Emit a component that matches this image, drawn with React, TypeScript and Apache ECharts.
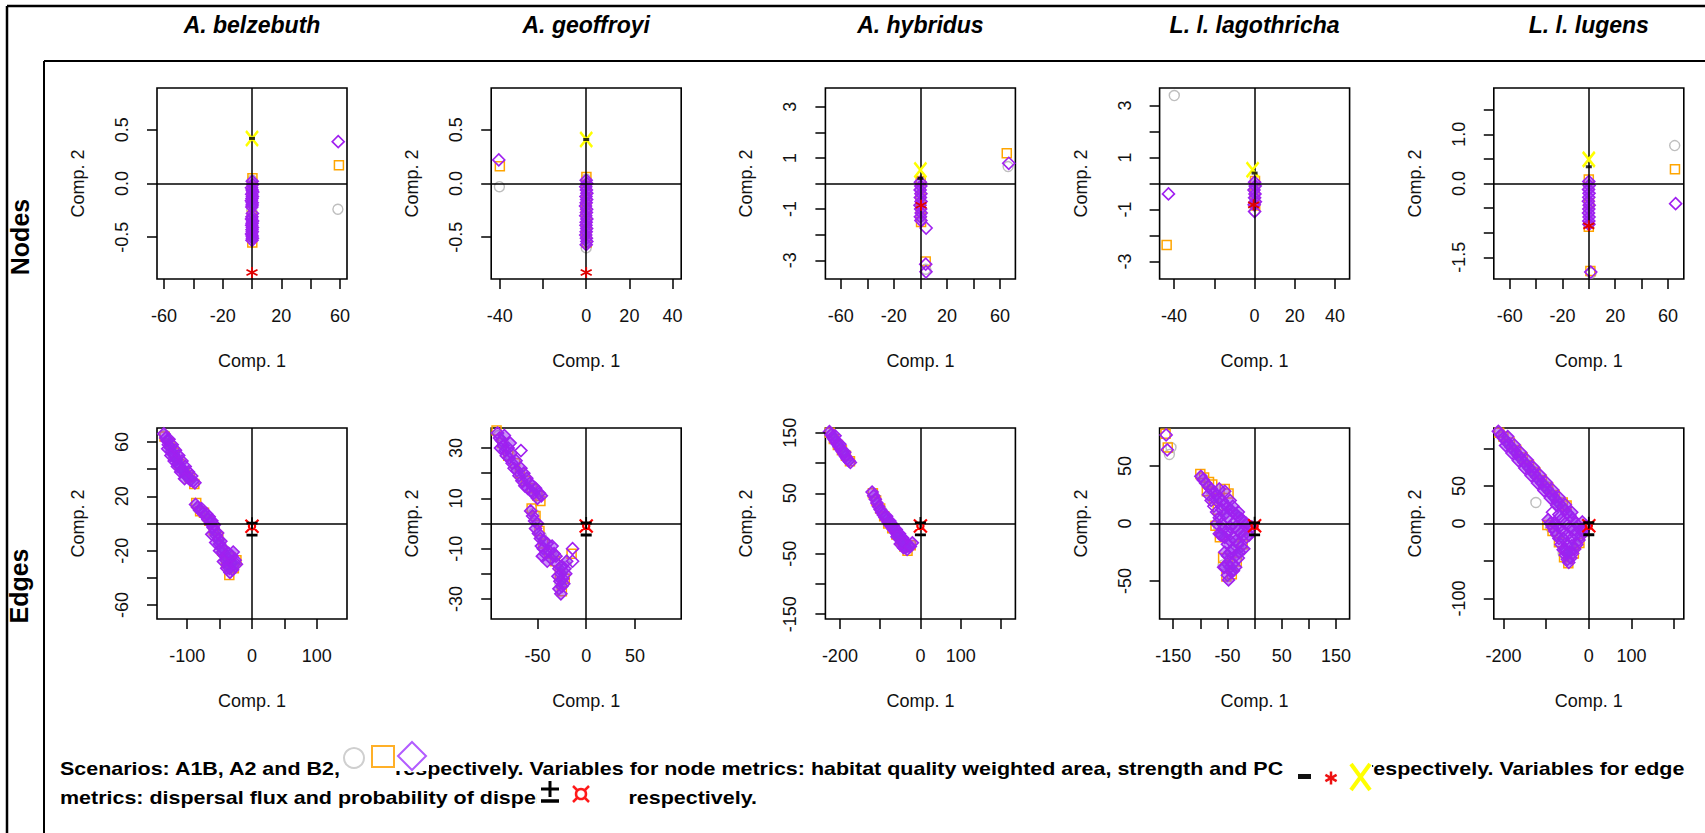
import React, { useEffect, useRef } from 'react';
import * as echarts from 'echarts';

type Pt = [number, number];

// ---------- titles / labels ----------
const panelTitles = ['A. belzebuth', 'A. geoffroyi', 'A. hybridus', 'L. l. lagothricha', 'L. l. lugens'];
const rowLabels = ['Nodes', 'Edges'];
const xAxisName = 'Comp. 1';
const yAxisName = 'Comp. 2';

// ---------- axis limits (symmetric) and ticks, panels 0-4 nodes, 5-9 edges ----------
const xLimits = [64.7, 44, 71.5, 47.2, 72, 146.5, 97.5, 236, 175, 222.6];
const yLimits = [0.89, 0.89, 3.73, 3.67, 1.94, 70.3, 38, 158, 83, 127.5];
const xTicks: number[][] = [
  [-60, -40, -20, 0, 20, 40, 60],
  [-40, -20, 0, 20, 40],
  [-60, -40, -20, 0, 20, 40, 60],
  [-40, -20, 0, 20, 40],
  [-60, -40, -20, 0, 20, 40, 60],
  [-100, -50, 0, 50, 100],
  [-50, 0, 50],
  [-200, -100, 0, 100, 200],
  [-150, -100, -50, 0, 50, 100, 150],
  [-200, -100, 0, 100, 200],
];
const xLabels: number[][] = [
  [-60, -20, 20, 60],
  [-40, 0, 20, 40],
  [-60, -20, 20, 60],
  [-40, 0, 20, 40],
  [-60, -20, 20, 60],
  [-100, 0, 100],
  [-50, 0, 50],
  [-200, 0, 100],
  [-150, -50, 50, 150],
  [-200, 0, 100],
];
const yTicks: number[][] = [
  [-0.5, 0, 0.5],
  [-0.5, 0, 0.5],
  [-3, -2, -1, 0, 1, 2, 3],
  [-3, -2, -1, 0, 1, 2, 3],
  [-1.5, -1, -0.5, 0, 0.5, 1, 1.5],
  [-60, -40, -20, 0, 20, 40, 60],
  [-30, -20, -10, 0, 10, 20, 30],
  [-150, -100, -50, 0, 50, 100, 150],
  [-50, 0, 50],
  [-100, -50, 0, 50, 100],
];
const yLabels: number[][] = [
  [-0.5, 0, 0.5],
  [-0.5, 0, 0.5],
  [-3, -1, 1, 3],
  [-3, -1, 1, 3],
  [-1.5, 0, 1],
  [-60, -20, 20, 60],
  [-30, -10, 10, 30],
  [-150, -50, 50, 150],
  [-50, 0, 50],
  [-100, 0, 50],
];
const yDecimals = [1, 1, 0, 0, 1, 0, 0, 0, 0, 0];

// ---------- node metrics (row 1) ----------
const belzNodesA1B: Pt[] = [[58.5, -0.24], [0.1, 0.03], [0.2, -0.12], [-0.2, -0.25], [0.1, -0.38], [0, -0.5]];
const belzNodesA2: Pt[] = [[59.2, 0.17], [0.3, 0.05], [0, -0.03], [-0.2, -0.1], [0.2, -0.18], [0, -0.3], [0.3, -0.4], [-0.1, -0.48], [0.2, -0.55]];
const belzNodesB2: Pt[] = [[58.7, 0.39], [0.2, 0.02], [0.4, -0.01], [-0.3, -0.04], [0.1, -0.06], [0.5, -0.08], [-0.2, -0.1], [0.3, -0.12], [0, -0.14], [-0.4, -0.16], [0.2, -0.18], [0.1, -0.2], [-0.1, -0.22], [0.3, -0.28], [0, -0.31], [-0.3, -0.33], [0.4, -0.35], [0.1, -0.37], [-0.2, -0.39], [0.3, -0.41], [0, -0.43], [0.2, -0.45], [-0.3, -0.47], [0.1, -0.49], [0.3, -0.51], [0, -0.53]];

const geofNodesA1B: Pt[] = [[-40.2, -0.03], [0, 0.04], [0.2, -0.1], [-0.1, -0.2], [0.1, -0.3], [0, -0.4], [0.2, -0.5], [0, -0.6]];
const geofNodesA2: Pt[] = [[-40, 0.16], [0.1, 0.06], [0, -0.05], [0.2, -0.15], [-0.1, -0.25], [0.1, -0.35], [0, -0.45], [0.2, -0.55]];
const geofNodesB2: Pt[] = [[-40.5, 0.22], [0, 0.03], [0.3, 0], [-0.2, -0.03], [0.1, -0.06], [0.3, -0.09], [-0.1, -0.12], [0.2, -0.15], [0, -0.18], [-0.3, -0.21], [0.2, -0.24], [0.1, -0.27], [-0.2, -0.3], [0.3, -0.33], [0, -0.36], [-0.1, -0.39], [0.2, -0.42], [0, -0.45], [-0.2, -0.48], [0.1, -0.51], [0.3, -0.54], [0, -0.57]];

const hybNodesA1B: Pt[] = [[66, 0.66], [4.1, -3.35], [0, -0.2], [0.2, -0.8], [0.4, -1.3]];
const hybNodesA2: Pt[] = [[65, 1.18], [4, -3.05], [0.2, 0.1], [0, -0.5], [0.3, -1.0], [0.5, -1.5]];
const hybNodesB2: Pt[] = [[66.5, 0.79], [4.3, -1.74], [4, -3.15], [4.2, -3.45], [0, 0.05], [0.3, -0.1], [-0.2, -0.25], [0.4, -0.4], [0, -0.55], [0.5, -0.7], [-0.3, -0.85], [0.2, -1.0], [0.6, -1.15], [0, -1.3], [0.4, -1.45]];

const lagNodesA1B: Pt[] = [[-39.9, 3.38], [0, -0.2], [0.2, -0.7], [0, -1.05]];
const lagNodesA2: Pt[] = [[-43.7, -2.36], [0.2, 0.1], [0, -0.4], [0.3, -0.85]];
const lagNodesB2: Pt[] = [[-42.8, -0.4], [0, -1.08], [0, 0.05], [0.3, -0.1], [-0.3, -0.25], [0.2, -0.4], [0, -0.55], [0.4, -0.7], [-0.2, -0.82]];

const lugNodesA1B: Pt[] = [[65.1, 0.77], [1.8, -1.82], [0, -0.1], [0.1, -0.6]];
const lugNodesA2: Pt[] = [[65.3, 0.29], [1.2, -1.78], [0, 0.08], [0.2, -0.4], [0, -0.88]];
const lugNodesB2: Pt[] = [[65.8, -0.41], [1.5, -1.8], [0, 0.04], [0.3, -0.04], [-0.2, -0.12], [0.2, -0.2], [0, -0.28], [-0.3, -0.36], [0.3, -0.44], [0, -0.52], [-0.2, -0.6], [0.2, -0.68], [0, -0.76], [0.1, -0.83]];

// node variables: habitat quality weighted area (black dash), strength (red *), PC (yellow X)
const nodeHabitat: Pt[] = [[0, 0.42], [0, 0.41], [0, 0.2], [0, 0.4], [0, 0.34]];
const nodeStrength: Pt[] = [[0, -0.83], [0, -0.83], [0.5, -0.85], [-0.5, -0.82], [0, -0.86]];
const nodePC: Pt[] = [[0, 0.42], [0, 0.41], [0, 0.53], [-1, 0.53], [0, 0.49]];

// ---------- edge metrics (row 2) ----------
const belzEdgesA1B: Pt[] = [[-134, 65], [-122, 55], [-110, 41], [-97, 33], [-83, 11], [-70, 4], [-58, -4], [-48, -16], [-38, -30], [-30, -32]];
const belzEdgesA2: Pt[] = [[-135, 64], [-127, 59], [-120, 52], [-112, 44], [-104, 38], [-96, 34], [-89, 29], [-86, 15], [-80, 9], [-74, 8], [-66, 2], [-59, -5], [-52, -10], [-46, -20], [-40, -29], [-35, -38], [-28, -33], [-24, -27], [-33, -25]];
const belzEdgesB2: Pt[] = [[-136, 66], [-133, 63], [-131, 61], [-129, 58], [-126, 56], [-124, 53], [-121, 51], [-119, 49], [-116, 47], [-114, 44], [-111, 42], [-108, 40], [-105, 38], [-102, 36], [-99, 34], [-95, 32], [-91, 31], [-88, 30], [-128, 62], [-123, 58], [-118, 54], [-113, 50], [-108, 46], [-103, 42], [-98, 38], [-93, 35], [-130, 55], [-125, 50], [-120, 46], [-115, 42], [-110, 38], [-104, 33], [-87, 14], [-84, 12], [-81, 10], [-78, 11], [-76, 8], [-73, 6], [-70, 7], [-68, 3], [-66, 5], [-64, 0], [-62, 2], [-60, -3], [-58, -1], [-57, -6], [-55, -9], [-53, -7], [-52, -12], [-50, -15], [-48, -13], [-47, -18], [-45, -21], [-43, -19], [-42, -24], [-40, -27], [-38, -25], [-37, -30], [-35, -33], [-33, -29], [-34, -36], [-30, -34], [-28, -30], [-26, -27], [-31, -24], [-29, -21], [-36, -22], [-24, -30], [-62, -8], [-56, -14], [-50, -20], [-44, -28], [-39, -33]];

const geofEdgesA1B: Pt[] = [[-90, 35], [-78, 27], [-65, 18], [-53, 12], [-54, 4], [-46, -5], [-36, -12], [-27, -24], [-20, -17]];
const geofEdgesA2: Pt[] = [[-92, 37], [-86, 32], [-80, 27], [-73, 24], [-68, 20], [-62, 17], [-56, 14], [-50, 11], [-47, 9], [-56, 6], [-52, 3], [-48, -3], [-44, -8], [-38, -12], [-32, -15], [-27, -20], [-25, -27], [-22, -22], [-15, -12]];
const geofEdgesB2: Pt[] = [[-91, 36], [-89, 34], [-87, 33], [-85, 31], [-83, 29], [-80, 30], [-82, 27], [-79, 26], [-77, 28], [-76, 24], [-74, 22], [-72, 25], [-71, 21], [-69, 19], [-67, 22], [-66, 17], [-64, 20], [-63, 15], [-61, 18], [-60, 14], [-58, 16], [-57, 13], [-55, 15], [-54, 12], [-52, 14], [-50, 10], [-48, 12], [-46, 11], [-67, 29], [-84, 35], [-78, 32], [-88, 30], [-57, 5], [-55, 3], [-53, 1], [-52, -2], [-50, 0], [-49, -4], [-47, -6], [-46, -9], [-44, -10], [-45, -13], [-42, -12], [-40, -15], [-38, -11], [-36, -14], [-35, -9], [-33, -12], [-30, -16], [-28, -18], [-26, -20], [-27, -23], [-25, -25], [-28, -26], [-24, -22], [-22, -18], [-20, -15], [-26, -28], [-14, -10], [-14, -15], [-21, -20], [-31, -13], [-40, -8], [-23, -24], [-25, -17], [-29, -21], [-43, -7]];

const hybEdgesA1B: Pt[] = [[-220, 146], [-200, 128], [-180, 106], [-115, 45], [-95, 20], [-75, -3], [-55, -22], [-38, -40]];
const hybEdgesA2: Pt[] = [[-225, 150], [-215, 140], [-205, 130], [-195, 121], [-185, 112], [-175, 103], [-118, 50], [-110, 38], [-100, 25], [-90, 12], [-80, 0], [-70, -8], [-60, -18], [-50, -28], [-40, -38], [-32, -45], [-24, -36]];
const hybEdgesB2: Pt[] = [[-226, 152], [-222, 147], [-218, 143], [-214, 139], [-210, 135], [-206, 131], [-202, 127], [-198, 123], [-194, 119], [-190, 115], [-186, 111], [-182, 107], [-178, 104], [-174, 101], [-212, 145], [-200, 131], [-188, 118], [-120, 52], [-116, 46], [-112, 40], [-108, 34], [-104, 28], [-100, 23], [-96, 18], [-92, 14], [-88, 10], [-84, 6], [-80, 2], [-76, -2], [-72, -5], [-68, -9], [-64, -12], [-60, -16], [-56, -19], [-52, -23], [-48, -27], [-44, -31], [-40, -35], [-36, -39], [-33, -43], [-42, -40], [-50, -34], [-84, 12], [-76, 4], [-68, -3], [-60, -10], [-52, -17], [-44, -24], [-36, -31], [-30, -37], [-58, -22], [-46, -32], [-20, -32], [-25, -38]];

const lagEdgesA1B: Pt[] = [[-154, 66], [-157, 60], [-97, 40], [-80, 28], [-66, -4], [-58, -36], [-45, -30], [-30, -20], [-20, -6]];
const lagEdgesA2: Pt[] = [[-164, 78], [-160, 66], [-100, 43], [-93, 40], [-84, 36], [-78, 34], [-88, 28], [-75, 22], [-68, 12], [-72, -2], [-64, -12], [-58, -30], [-52, -46], [-42, -44], [-33, -33], [-22, -18], [-10, -6], [-55, 30], [-48, 26]];
const lagEdgesB2: Pt[] = [[-163, 77], [-161, 64], [-99, 41], [-95, 38], [-90, 35], [-85, 32], [-80, 30], [-75, 27], [-70, 25], [-65, 22], [-60, 20], [-55, 17], [-50, 14], [-45, 12], [-40, 10], [-35, 8], [-30, 6], [-25, 4], [-20, 2], [-15, 0], [-10, -2], [-5, -3], [-75, 15], [-70, 10], [-65, 5], [-60, 0], [-58, -5], [-62, -10], [-55, -12], [-50, -8], [-45, -3], [-40, 0], [-35, -3], [-30, -6], [-25, -8], [-20, -10], [-15, -12], [-10, -10], [-50, -18], [-45, -15], [-40, -12], [-35, -15], [-30, -18], [-25, -20], [-20, -22], [-55, -25], [-50, -28], [-45, -25], [-40, -22], [-35, -28], [-30, -30], [-55, -38], [-50, -35], [-45, -38], [-40, -35], [-50, -45], [-48, -49], [-43, -42], [-65, -9], [-70, 0], [-80, 20], [-85, 25], [-60, 12], [-50, 5], [-45, 20], [-55, 28], [-65, 30], [-70, 20], [-40, 15], [-30, 10], [-61, -10], [-57, -38], [-39, -41], [-55, 8], [-35, -38], [-28, -25]];

const lugEdgesA1B: Pt[] = [[-205, 118], [-180, 100], [-155, 84], [-124, 28], [-130, 70], [-100, 50], [-75, 28], [-90, -5], [-60, -40], [-30, -30]];
const lugEdgesA2: Pt[] = [[-210, 121], [-200, 116], [-185, 108], [-170, 98], [-155, 88], [-140, 78], [-125, 68], [-110, 58], [-95, 48], [-80, 38], [-61, 28], [-52, 24], [-97, -2], [-85, -10], [-70, -25], [-58, -45], [-48, -53], [-35, -40], [-22, -26], [-10, -10]];
const lugEdgesB2: Pt[] = [[-212, 123], [-206, 118], [-200, 114], [-194, 110], [-188, 106], [-182, 102], [-176, 98], [-170, 94], [-164, 90], [-158, 86], [-152, 82], [-146, 78], [-140, 74], [-134, 70], [-128, 66], [-122, 62], [-116, 58], [-110, 54], [-104, 50], [-98, 46], [-92, 42], [-86, 38], [-80, 34], [-74, 30], [-68, 26], [-62, 22], [-56, 18], [-50, 14], [-44, 10], [-38, 6], [-190, 116], [-175, 105], [-160, 95], [-145, 85], [-130, 75], [-115, 65], [-100, 55], [-85, 45], [-70, 35], [-55, 25], [-40, 15], [-195, 104], [-180, 94], [-165, 84], [-150, 74], [-135, 64], [-120, 54], [-105, 44], [-90, 34], [-75, 24], [-95, 5], [-90, 0], [-85, -5], [-80, -10], [-75, -15], [-70, -20], [-65, -28], [-60, -35], [-55, -42], [-50, -48], [-47, -52], [-42, -46], [-38, -40], [-33, -34], [-28, -28], [-23, -22], [-18, -16], [-13, -10], [-8, -4], [-80, 0], [-70, -5], [-60, -10], [-50, -15], [-40, -20], [-30, -15], [-20, -8], [-65, 5], [-55, 0], [-45, -5], [-35, -8], [-60, -20], [-50, -28], [-40, -30], [-55, -35], [-45, -38], [-50, -40], [-85, 15], [-70, 12], [-30, 0], [-15, 2]];

// edge variables: dispersal flux (black ±), probability of dispersal (red ¤)
const edgeFlux: Pt[] = [[0, -2], [0, -1], [0, -4], [0, -2], [0, -3]];
const edgeProb: Pt[] = [[0, -2], [0, -1], [0, -4], [0, -2], [0, -3]];

const scenarioSets: Pt[][][] = [
  [belzNodesA1B, belzNodesA2, belzNodesB2],
  [geofNodesA1B, geofNodesA2, geofNodesB2],
  [hybNodesA1B, hybNodesA2, hybNodesB2],
  [lagNodesA1B, lagNodesA2, lagNodesB2],
  [lugNodesA1B, lugNodesA2, lugNodesB2],
  [belzEdgesA1B, belzEdgesA2, belzEdgesB2],
  [geofEdgesA1B, geofEdgesA2, geofEdgesB2],
  [hybEdgesA1B, hybEdgesA2, hybEdgesB2],
  [lagEdgesA1B, lagEdgesA2, lagEdgesB2],
  [lugEdgesA1B, lugEdgesA2, lugEdgesB2],
];

// ---------- caption ----------
const captionLine1 = ['Scenarios: A1B, A2 and B2,', 'respectively. Variables for node metrics: habitat quality weighted area, strength and PC', 'respectively. Variables for edge'];
const captionLine2 = ['metrics: dispersal flux and probability of dispersal', 'respectively.'];

// ---------- styling / layout ----------
const FONT = '"Liberation Sans", Arial, Helvetica, sans-serif';
const GREY = '#BEBEBE';
const ORANGE = '#FFA500';
const PURPLE = '#A020F0';
const PURPLE_FILL = 'rgba(150,40,240,0.5)';
const CLEAR = 'rgba(255,255,255,0)';
const BOX_W = 190;
const BOX_H = 191;
const COL0 = 157;
const COL_PITCH = 334.2;
const ROW_TOPS = [88, 428];

const STAR_PATH = 'path://M5,0L5,10M0.67,2.5L9.33,7.5M0.67,7.5L9.33,2.5';
const X_PATH = 'path://M0,0L10,14M10,0L0,14';
const PM_PATH = 'path://M5,0L5,10M0,5L10,5M0,15L10,15';
const CUR_PATH = 'path://M2.6,5A2.4,2.4,0,1,1,7.4,5A2.4,2.4,0,1,1,2.6,5ZM0,0L3.2,3.2M10,0L6.8,3.2M0,10L3.2,6.8M10,10L6.8,6.8';

function scatter(i: number, data: any[], symbol: string, size: any, color: string, width: number, z: number, fill = CLEAR) {
  return {
    type: 'scatter',
    xAxisIndex: i,
    yAxisIndex: i,
    data,
    symbol,
    symbolSize: size,
    silent: true,
    z,
    itemStyle: { color: fill, borderColor: color, borderWidth: width, opacity: 1 },
    emphasis: { disabled: true },
  };
}

// styling only: overlapping (clustered) diamonds get a translucent fill so dense clouds read solid,
// isolated diamonds stay hollow as in the original
function styledDiamonds(pts: Pt[], xr: number, yr: number) {
  return pts.map((p, k) => {
    const crowded = pts.some((q, m) => m !== k && Math.abs(q[0] - p[0]) / xr < 0.06 && Math.abs(q[1] - p[1]) / yr < 0.06);
    return { value: p, itemStyle: { color: crowded ? PURPLE_FILL : CLEAR } };
  });
}

function buildOption() {
  const grids: any[] = [];
  const xAxes: any[] = [];
  const yAxes: any[] = [];
  const series: any[] = [];
  const labelStyle = { fontSize: 18, color: '#111', fontFamily: FONT };

  for (let i = 0; i < 10; i++) {
    const row = i < 5 ? 0 : 1;
    const col = i % 5;
    const left = COL0 + col * COL_PITCH;
    const top = ROW_TOPS[row];
    grids.push({
      left, top, width: BOX_W, height: BOX_H,
      show: true, borderColor: '#000', borderWidth: 1.6, backgroundColor: '#fff',
      containLabel: false, outerBoundsMode: 'none',
    });
    const dec = yDecimals[i];
    xAxes.push({
      gridIndex: i, type: 'value', min: -xLimits[i], max: xLimits[i], position: 'bottom',
      axisLine: { show: false, onZero: false, lineStyle: { color: '#000' } }, splitLine: { show: false },
      axisTick: { show: true, inside: false, length: 10, customValues: xTicks[i], lineStyle: { color: '#000', width: 1.5 } },
      axisLabel: { ...labelStyle, margin: 28, customValues: xLabels[i], formatter: (v: number) => String(v) },
      name: xAxisName, nameLocation: 'middle', nameGap: 73, nameMoveOverlap: false,
      nameTextStyle: { ...labelStyle },
      z: 5,
    });
    yAxes.push({
      gridIndex: i, type: 'value', min: -yLimits[i], max: yLimits[i], position: 'left',
      axisLine: { show: false, onZero: false, lineStyle: { color: '#000' } }, splitLine: { show: false },
      axisTick: { show: true, inside: false, length: 10, customValues: yTicks[i], lineStyle: { color: '#000', width: 1.5 } },
      axisLabel: { ...labelStyle, margin: 26, rotate: 90, customValues: yLabels[i], formatter: (v: number) => v.toFixed(dec) },
      name: yAxisName, nameLocation: 'middle', nameGap: 70, nameMoveOverlap: false,
      nameTextStyle: { ...labelStyle },
      z: 5,
    });
    const [a1b, a2, b2] = scenarioSets[i];
    series.push(scatter(i, a1b, 'circle', 10, GREY, 1.4, 2));
    series.push(scatter(i, a2, 'rect', 9, ORANGE, 1.5, 3));
    const dia: any = scatter(i, styledDiamonds(b2, xLimits[i], yLimits[i]), 'diamond', 12, PURPLE, 1.6, 4, PURPLE_FILL);
    dia.markLine = {
      silent: true, symbol: ['none', 'none'], label: { show: false },
      lineStyle: { color: '#000', width: 1.5, type: 'solid' },
      emphasis: { disabled: true },
      data: [{ xAxis: 0 }, { yAxis: 0 }],
    };
    series.push(dia);
    if (row === 0) {
      series.push(scatter(i, [nodeStrength[col]], STAR_PATH, 11, '#E00000', 1.8, 6));
      series.push(scatter(i, [nodePC[col]], X_PATH, [12, 15], '#FFFF00', 2.6, 7));
      series.push({
        type: 'scatter', xAxisIndex: i, yAxisIndex: i, data: [nodeHabitat[col]], symbol: 'rect',
        symbolSize: [6, 3], silent: true, z: 8, itemStyle: { color: '#000' },
      });
    } else {
      series.push(scatter(i, [edgeProb[col]], CUR_PATH, 13, '#FF0000', 2.2, 6));
      series.push(scatter(i, [edgeFlux[col]], PM_PATH, [11, 18], '#000000', 2.2, 7));
    }
  }

  const g: any[] = [];
  const line = (x1: number, y1: number, x2: number, y2: number, w: number, c = '#000') => ({
    type: 'line', silent: true, shape: { x1, y1, x2, y2 }, style: { stroke: c, lineWidth: w },
  });
  g.push(line(7, 6, 1705, 6, 2.5));
  g.push(line(7, 6, 7, 833, 2.5));
  g.push(line(44, 61, 1705, 61, 2));
  g.push(line(44, 61, 44, 833, 2));

  const textEl = (text: string, x: number, y: number, font: any, extra: any = {}) => ({
    type: 'text', silent: true, x, y, ...extra,
    style: {
      text, fill: '#000', fontFamily: FONT, ...font,
      align: extra.align || 'center', textAlign: extra.align || 'center',
      verticalAlign: 'middle', textVerticalAlign: 'middle',
    },
  });

  panelTitles.forEach((t, c) => {
    g.push(textEl(t, COL0 + c * COL_PITCH + BOX_W / 2, 25, { fontSize: 23, fontWeight: 'bold', fontStyle: 'italic' }));
  });
  g.push(textEl(rowLabels[0], 20, 237, { fontSize: 25, fontWeight: 'bold' }, { rotation: Math.PI / 2 }));
  g.push(textEl(rowLabels[1], 19, 586, { fontSize: 25, fontWeight: 'bold' }, { rotation: Math.PI / 2 }));

  // caption
  const capFont = { fontSize: 19, fontWeight: 'bold' };
  const capExtra = { align: 'left', scaleX: 1.13 };
  g.push(textEl(captionLine1[0], 60, 768, capFont, capExtra));
  g.push(textEl(captionLine1[1], 395, 768, capFont, capExtra));
  g.push(textEl(captionLine1[2], 1365, 768, capFont, capExtra));
  g.push(textEl(captionLine2[0], 60, 797, capFont, capExtra));
  g.push(textEl(captionLine2[1], 628.5, 797, capFont, capExtra));

  // scenario symbols (line 1)
  g.push({ type: 'rect', silent: true, shape: { x: 391, y: 738, width: 38, height: 33 }, style: { fill: '#fff' } });
  g.push({ type: 'circle', silent: true, shape: { cx: 354, cy: 758, r: 10 }, style: { fill: 'none', stroke: '#cfcfcf', lineWidth: 2 } });
  g.push({ type: 'rect', silent: true, shape: { x: 372, y: 746, width: 22, height: 21 }, style: { fill: 'none', stroke: '#FFB028', lineWidth: 2 } });
  g.push({ type: 'polygon', silent: true, shape: { points: [[412, 742], [426, 756], [412, 770], [398, 756]] }, style: { fill: '#fff', stroke: '#B25CFF', lineWidth: 2 } });

  // node variable symbols (line 1)
  g.push({ type: 'rect', silent: true, shape: { x: 1298, y: 774, width: 13, height: 5 }, style: { fill: '#111' } });
  g.push(line(1331, 771.5, 1331, 784.5, 2.5, '#EE1111'));
  g.push(line(1325.4, 774.8, 1336.6, 781.2, 2.5, '#EE1111'));
  g.push(line(1325.4, 781.2, 1336.6, 774.8, 2.5, '#EE1111'));
  g.push({ type: 'rect', silent: true, shape: { x: 1345, y: 760, width: 27, height: 20 }, style: { fill: '#fff' } });
  g.push(line(1351, 764, 1370, 790, 4, '#FFFF00'));
  g.push(line(1370, 764, 1351, 790, 4, '#FFFF00'));

  // edge variable symbols (line 2)
  g.push({ type: 'rect', silent: true, shape: { x: 537, y: 780, width: 88, height: 28 }, style: { fill: '#fff' } });
  g.push(line(550, 781, 550, 797, 3));
  g.push(line(541, 789, 559, 789, 3));
  g.push(line(541, 801, 559, 801, 3.5));
  g.push({ type: 'circle', silent: true, shape: { cx: 581, cy: 794, r: 5 }, style: { fill: 'none', stroke: '#FF1A1A', lineWidth: 2.5 } });
  g.push(line(573, 786, 577.5, 790.5, 2.5, '#FF1A1A'));
  g.push(line(589, 786, 584.5, 790.5, 2.5, '#FF1A1A'));
  g.push(line(573, 802, 577.5, 797.5, 2.5, '#FF1A1A'));
  g.push(line(589, 802, 584.5, 797.5, 2.5, '#FF1A1A'));

  return {
    animation: false,
    backgroundColor: '#fff',
    grid: grids,
    xAxis: xAxes,
    yAxis: yAxes,
    series,
    graphic: { elements: g },
  };
}

export default function App() {
  const ref = useRef<HTMLDivElement>(null);
  useEffect(() => {
    document.body.style.margin = '0';
    const chart = echarts.init(ref.current as HTMLDivElement, null, { renderer: 'svg' });
    chart.setOption(buildOption() as any);
    return () => chart.dispose();
  }, []);
  return (
    <div
      ref={ref}
      style={{ position: 'absolute', left: 0, top: 0, width: 1705, height: 833, background: '#fff' }}
    />
  );
}
